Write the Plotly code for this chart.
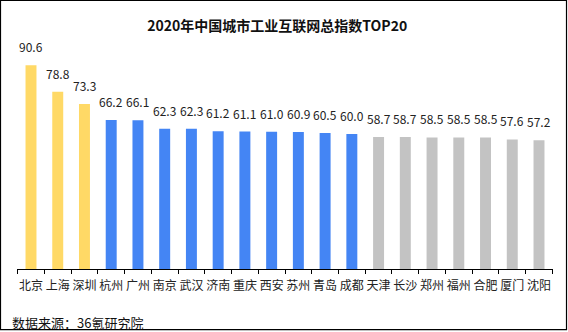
import plotly.graph_objects as go

cities = ["北京", "上海", "深圳", "杭州", "广州", "南京", "武汉", "济南", "重庆", "西安",
          "苏州", "青岛", "成都", "天津", "长沙", "郑州", "福州", "合肥", "厦门", "沈阳"]
values = [90.6, 78.8, 73.3, 66.2, 66.1, 62.3, 62.3, 61.2, 61.1, 61.0,
          60.9, 60.5, 60.0, 58.7, 58.7, 58.5, 58.5, 58.5, 57.6, 57.2]
groups = ["top"] * 3 + ["mid"] * 10 + ["rest"] * 7
group_colors = {"top": "#FFD966", "mid": "#4485F4", "rest": "#C3C3C3"}
colors = [group_colors[g] for g in groups]

FONT = "Noto Sans CJK SC, Microsoft YaHei, sans-serif"

fig = go.Figure()
fig.add_trace(go.Bar(
    x=cities, y=values,
    marker=dict(color=colors, line=dict(width=0)),
    hoverinfo="x+y",
))

for c, v in zip(cities, values):
    fig.add_annotation(x=c, y=v, text=f"{v:.1f}", showarrow=False,
                       yanchor="bottom", yshift=8,
                       font=dict(family=FONT, size=12, color="#222222"))

fig.add_annotation(xref="paper", yref="paper", x=-0.0125, y=-0.238,
                   xanchor="left", yanchor="middle", showarrow=False,
                   text="数据来源：36氪研究院",
                   font=dict(family=FONT, size=13, color="#111111"))

# chart border
fig.add_shape(type="rect", xref="paper", yref="paper",
              x0=-0.0308, x1=1.0252, y0=-0.2690, y1=1.1933,
              line=dict(color="#000000", width=1.2), fillcolor="rgba(0,0,0,0)")

fig.update_layout(
    width=568, height=332,
    margin=dict(l=17, r=15, t=44, b=63),
    paper_bgcolor="white", plot_bgcolor="white",
    bargap=0.59,
    showlegend=False,
    title=dict(text="<b>2020年中国城市工业互联网总指数TOP20</b>",
               x=0.488, xanchor="center", y=0.922, yanchor="middle",
               font=dict(family=FONT, size=14, color="#111111")),
    font=dict(family=FONT),
)
fig.update_xaxes(
    showline=True, linecolor="#000000", linewidth=1,
    ticks="outside", ticklen=4, tickcolor="#000000",
    tickson="boundaries", tickangle=0,
    tickfont=dict(family=FONT, size=12, color="#222222"),
    ticklabelstandoff=6,
    showgrid=False, fixedrange=True,
)
fig.update_yaxes(range=[0, 100], visible=False, showgrid=False, fixedrange=True)

fig.write_html("out.html")
